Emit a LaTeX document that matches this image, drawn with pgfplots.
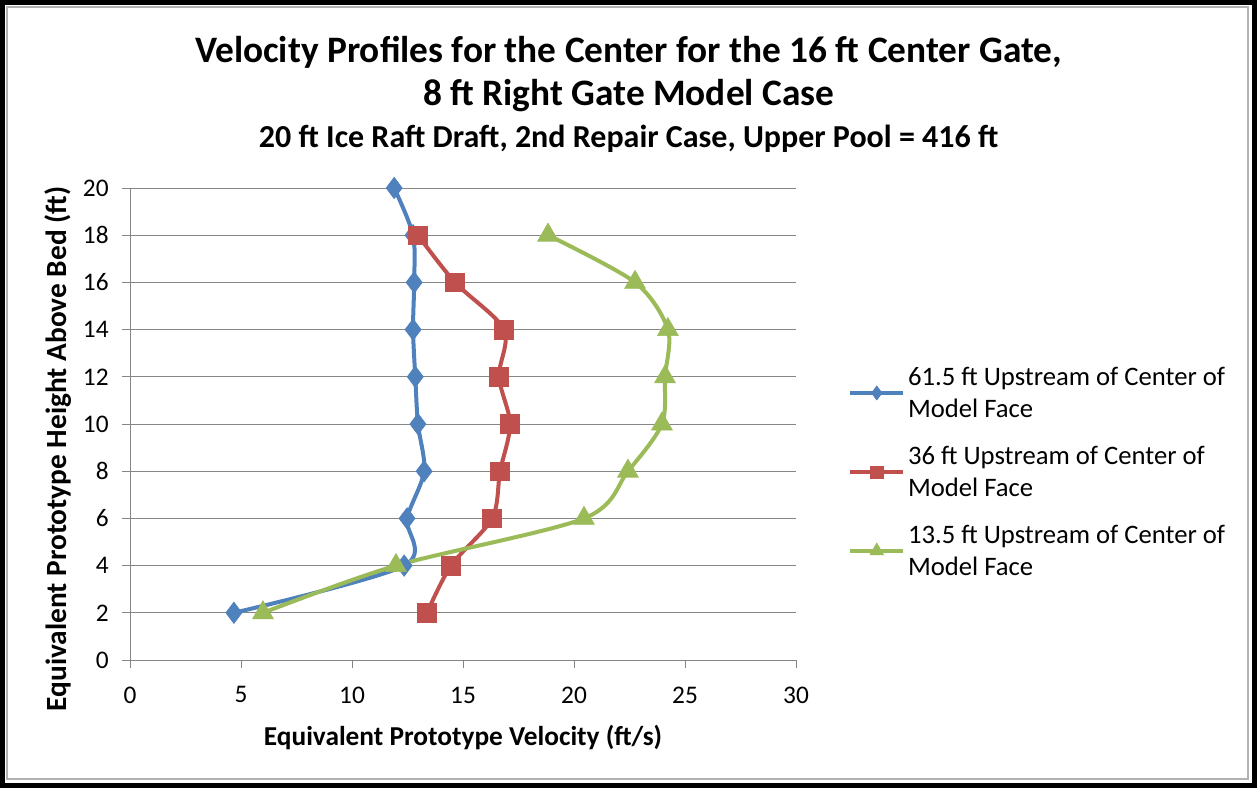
\documentclass[border=0pt]{standalone}
\usepackage{pgfplots}
\pgfplotsset{compat=1.18}
\usepackage{fontspec}
\setmainfont{Carlito}
\definecolor{sblue}{HTML}{4F81BD}
\definecolor{sred}{HTML}{C0504D}
\definecolor{sgreen}{HTML}{9BBB59}
\definecolor{gridc}{HTML}{868686}
\begin{document}
\begin{tikzpicture}
% frame
\fill[white] (0pt,0pt) rectangle (942.75pt,-591pt);
\draw[gray!60, line width=1.5pt] (5pt,-5pt) rectangle (936pt,-584pt);
\draw[black, line width=4pt] (2pt,-2pt) rectangle (940.75pt,-589pt);
% titles
\node[font=\fontsize{28}{32}\selectfont\bfseries] at (471.5pt,-39.5pt) {Velocity Profiles for the Center for the 16 ft Center Gate,};
\node[font=\fontsize{28}{32}\selectfont\bfseries] at (471.5pt,-72pt) {8 ft Right Gate Model Case};
\node[font=\fontsize{24}{28}\selectfont\bfseries] at (471.5pt,-104pt) {20 ft Ice Raft Draft, 2nd Repair Case, Upper Pool = 416 ft};
\begin{axis}[
  at={(97.5pt,-495pt)}, anchor=south west,
  scale only axis, width=499.5pt, height=354pt,
  xmin=0, xmax=30, ymin=0, ymax=20,
  xtick={0,5,...,30}, ytick={0,2,...,20},
  axis x line*=bottom, axis y line*=left,
  axis line style={gridc, -}, 
  tick style={gridc, line width=0.6pt},
  tick align=outside, major tick length=6pt,
  ymajorgrids, grid style={gridc, line width=0.6pt},
  ticklabel style={font=\fontsize{19}{22}\selectfont},
  /pgf/number format/assume math mode=true,
  xticklabel style={yshift=-10.5pt},
  yticklabel style={xshift=-6.5pt},
  xlabel={\textbf{Equivalent Prototype Velocity (ft/s)}},
  ylabel={\textbf{Equivalent Prototype Height Above Bed (ft)}},
  xlabel style={font=\fontsize{20.5}{24}\selectfont, at={(axis description cs:0.5,-0.165)}, anchor=center},
  ylabel style={font=\fontsize{22}{26}\selectfont, at={(axis description cs:-0.108,0.447)}, anchor=center},
  legend style={at={(1.072,0.633)}, anchor=north west, draw=none, font=\fontsize{20}{24}\selectfont, cells={align=left, anchor=west}, row sep=16pt},
  legend cell align=left,
  legend image code/.code={\draw[#1, /tikz/every mark/.append style={scale=0.65}, mark repeat=2, mark phase=2] plot coordinates {(0cm,0cm) (0.7cm,0cm) (1.4cm,0cm)};},
  every axis plot/.append style={line width=3pt, smooth, tension=0.5},
  clip=false,
]
\addplot[sblue, mark=diamond*, mark size=8pt, mark options={fill=sblue, line width=0.5pt}] coordinates {
(11.9,20) (12.75,18) (12.8,16) (12.75,14) (12.85,12) (12.97,10) (13.25,8) (12.48,6) (12.35,4) (4.68,2)};
\addlegendentry{61.5 ft Upstream of Center of\\Model Face}
\addplot[sred, mark=square*, mark size=7pt, mark options={fill=sred, line width=0.5pt}] coordinates {
(12.97,18) (14.64,16) (16.85,14) (16.62,12) (17.12,10) (16.67,8) (16.31,6) (14.46,4) (13.38,2)};
\addlegendentry{36 ft Upstream of Center of\\Model Face}
\addplot[sgreen, mark=triangle*, mark size=9pt, mark options={fill=sgreen, line width=0.5pt}] coordinates {
(18.83,18) (22.75,16) (24.23,14) (24.1,12) (23.96,10) (22.43,8) (20.45,6) (11.98,4) (5.99,2)};
\addlegendentry{13.5 ft Upstream of Center of\\Model Face}
\end{axis}
\end{tikzpicture}
\end{document}
